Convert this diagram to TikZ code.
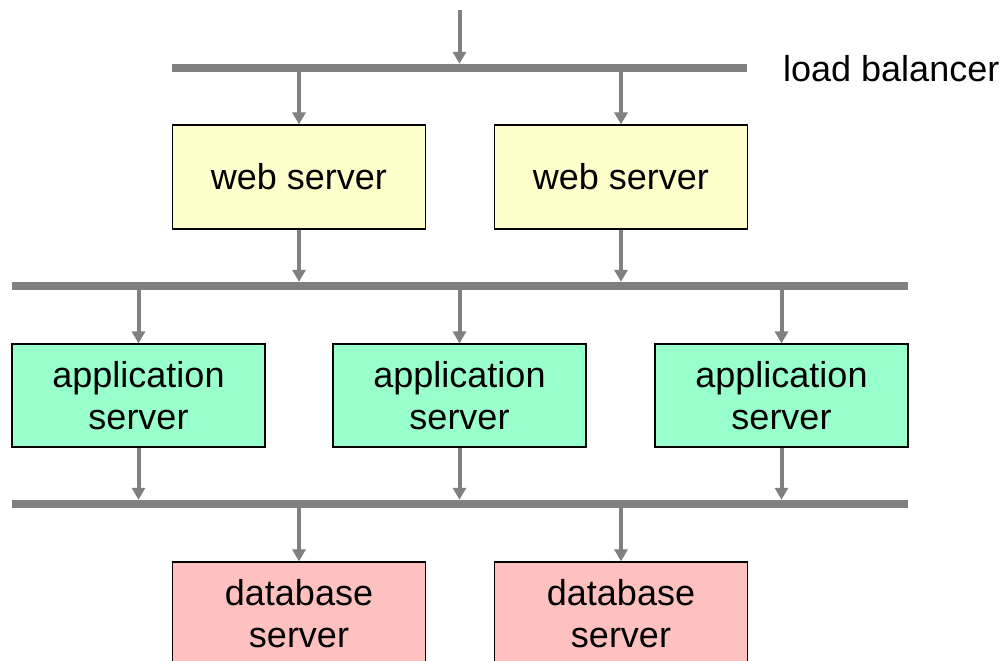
\documentclass[tikz,border=0pt]{standalone}
\usepackage{fontspec}
\setmainfont{Liberation Sans}
\usetikzlibrary{arrows.meta}
\definecolor{bargray}{HTML}{808080}
\definecolor{webfill}{HTML}{FFFFCC}
\definecolor{appfill}{HTML}{99FFCC}
\definecolor{dbfill}{HTML}{FFC0C0}
\begin{document}
\begin{tikzpicture}[x=1pt,y=-1pt,
  bar/.style={fill=bargray, inner sep=0pt, minimum height=8pt},
  srv/.style={draw=black, line width=1.2pt, minimum width=253pt, minimum height=104pt,
    inner sep=0pt, align=center, font=\fontsize{36}{42}\selectfont},
  conn/.style={draw=bargray, line width=4pt, -{Triangle[length=12pt,width=13pt]}},
  lbl/.style={font=\fontsize{36}{42}\selectfont, inner sep=0pt}
]
\useasboundingbox (0,0) rectangle (1005,661);
\clip (0,0) rectangle (1005,661);

% bars
\node[bar, minimum width=575pt] (lb)   at (459.5,68) {};
\node[bar, minimum width=896pt] (webbus) at (460,286) {};
\node[bar, minimum width=896pt] (appbus) at (460,504) {};

\node[lbl, anchor=base west] (lbtext) at (783,82) {load balancer};

% servers
\node[srv, fill=webfill] (web1) at (299,177) {web server};
\node[srv, fill=webfill] (web2) at (621,177) {web server};

\node[srv, fill=appfill, minimum height=103pt] (app1) at (138.5,395.5) {application\\server};
\node[srv, fill=appfill, minimum height=103pt] (app2) at (459.5,395.5) {application\\server};
\node[srv, fill=appfill, minimum height=103pt] (app3) at (781.5,395.5) {application\\server};

\node[srv, fill=dbfill] (db1) at (299,614) {database\\server};
\node[srv, fill=dbfill] (db2) at (621,614) {database\\server};

% connectors
\coordinate (src) at (459.5,10);
\draw[conn] (src) -- (src |- lb.north);

\draw[conn] (lb.south -| web1.north) -- (web1.north);
\draw[conn] (lb.south -| web2.north) -- (web2.north);

\draw[conn] (web1.south) -- (web1.south |- webbus.north);
\draw[conn] (web2.south) -- (web2.south |- webbus.north);

\draw[conn] (webbus.south -| app1.north) -- (app1.north);
\draw[conn] (webbus.south -| app2.north) -- (app2.north);
\draw[conn] (webbus.south -| app3.north) -- (app3.north);

\draw[conn] (app1.south) -- (app1.south |- appbus.north);
\draw[conn] (app2.south) -- (app2.south |- appbus.north);
\draw[conn] (app3.south) -- (app3.south |- appbus.north);

\draw[conn] (appbus.south -| db1.north) -- (db1.north);
\draw[conn] (appbus.south -| db2.north) -- (db2.north);
\end{tikzpicture}
\end{document}
